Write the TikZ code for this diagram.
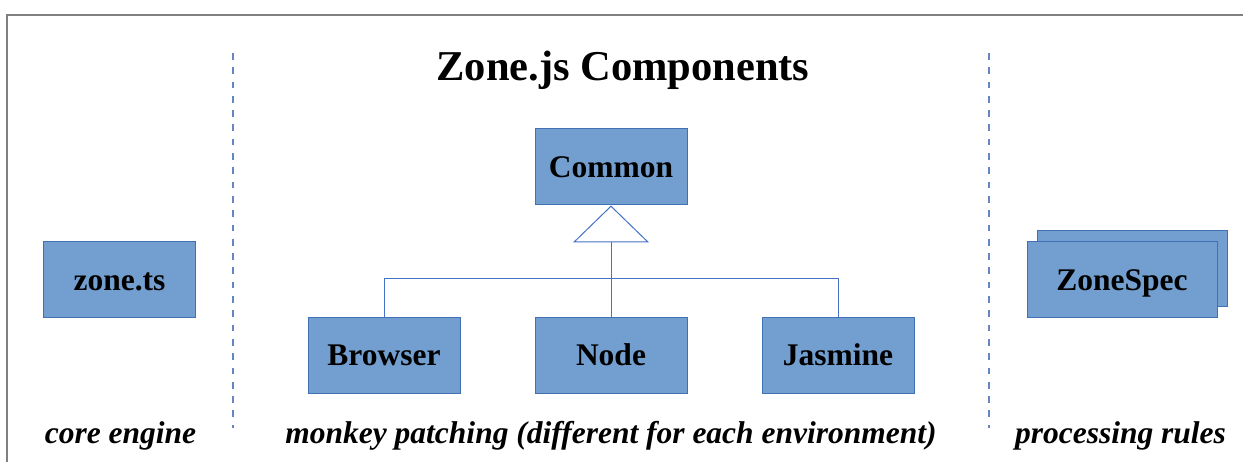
\documentclass[tikz,border=0pt]{standalone}
\usepackage{fontspec}
\setmainfont{Liberation Serif}
\usetikzlibrary{arrows.meta}
\definecolor{boxfill}{RGB}{114,159,207}
\definecolor{boxline}{RGB}{65,113,180}
\definecolor{linkline}{RGB}{68,114,196}
\definecolor{sepline}{RGB}{100,135,195}

\begin{document}
\begin{tikzpicture}[x=1pt, y=-1pt,
    comp/.style={draw=boxline, fill=boxfill, line width=1pt, minimum width=152pt, minimum height=76pt,
        inner sep=0pt, text height=21pt, text depth=0pt, font=\fontsize{31.5}{36}\selectfont\bfseries},
    caption/.style={anchor=base, font=\fontsize{31.5}{36}\selectfont\bfseries\itshape},
    link/.style={draw=linkline, line width=1pt},
    sep/.style={draw=sepline, line width=1.2pt, dash pattern=on 6.7pt off 7.6pt}]
    \useasboundingbox (0, 0) rectangle (1243, 462);
    \draw[gray, line width=2pt] (7, 470) |- (1250, 15.5);
    \draw[sep] (233, 53) -- (233, 428);
    \draw[sep] (989, 53) -- (989, 428);
    \node[anchor=base, font=\fontsize{42.5}{48}\selectfont\bfseries] (title) at (623, 81) {Zone.js Components};

    \node[comp] (zonets) at (119.5, 280) {zone.ts};
    \node[comp] (common) at (611, 167) {Common};
    \node[comp] (browser) at (384, 355.5) {Browser};
    \node[comp] (node) at (611, 355.5) {Node};
    \node[comp] (jasmine) at (838, 355.5) {Jasmine};
    \node[comp, minimum width=190pt] (specback) at (1132, 269) {};
    \node[comp, minimum width=190pt] (zonespec) at (1122, 280) {ZoneSpec};

    \draw[link, -{Triangle[open, width=76pt, length=37pt, line width=1pt]}] (node.north) -- (common.south);
    \draw[link] (browser.north) -- ++(0, -38) -| (jasmine.north);

    \node[caption] (core) at (120.5, 443) {core engine};
    \node[caption] (patch) at (611, 443) {monkey patching (different for each environment)};
    \node[caption] (rules) at (1120.5, 443) {processing rules};
\end{tikzpicture}
\end{document}
